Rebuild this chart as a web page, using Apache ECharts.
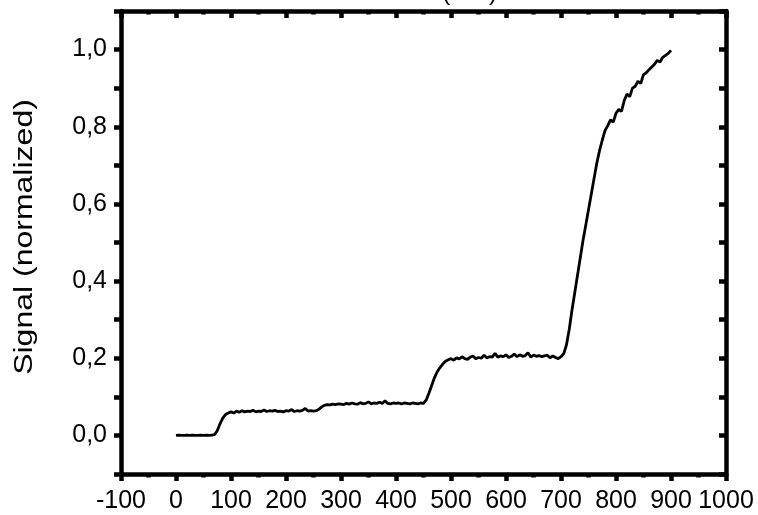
<!DOCTYPE html>
<html>
<head>
<meta charset="utf-8">
<script src="https://cdn.jsdelivr.net/npm/echarts@6/dist/echarts.min.js"></script>
<style>
html,body{margin:0;padding:0;background:#fff;}
#c{width:758px;height:515px;}
</style>
</head>
<body>
<div id="c"></div>
<script>
// Data
var timeValues = [0,5,10,15,20,25,30,35,40,45,50,55,60,65,70,75,80,85,90,95,
  100,105,110,115,120,125,130,135,140,145,150,155,160,165,170,175,180,185,190,195,
  200,205,210,215,220,225,230,235,240,245,250,255,260,265,270,275,280,285,290,295,
  300,305,310,315,320,325,330,335,340,345,350,355,360,365,370,375,380,385,390,395,
  400,405,410,415,420,425,430,435,440,445,450,455,460,465,470,475,480,485,490,495,
  500,505,510,515,520,525,530,535,540,545,550,555,560,565,570,575,580,585,590,595,
  600,605,610,615,620,625,630,635,640,645,650,655,660,665,670,675,680,685,690,695,
  700,705,710,715,720,725,730,735,740,745,750,755,760,765,770,775,780,785,790,795,
  800,805,810,815,820,825,830,835,840,845,850,855,860,865,870,875,880,885,890,895,900];
var signalValues = [0.000,0.001,0.000,0.000,0.001,0.000,0.001,0.000,0.000,0.001,0.000,0.001,0.000,0.001,0.002,0.012,0.030,0.045,0.054,0.058,
  0.061,0.058,0.063,0.060,0.064,0.061,0.063,0.062,0.065,0.061,0.063,0.062,0.066,0.062,0.064,0.063,0.065,0.062,0.063,0.061,
  0.064,0.063,0.067,0.062,0.064,0.063,0.065,0.070,0.063,0.064,0.063,0.064,0.068,0.074,0.078,0.080,0.079,0.081,0.080,0.082,
  0.081,0.080,0.083,0.081,0.084,0.082,0.081,0.085,0.082,0.083,0.087,0.082,0.084,0.083,0.086,0.083,0.090,0.083,0.082,0.084,
  0.083,0.084,0.082,0.084,0.083,0.082,0.084,0.083,0.082,0.084,0.083,0.092,0.110,0.130,0.150,0.165,0.176,0.185,0.192,0.196,
  0.199,0.195,0.201,0.198,0.204,0.199,0.197,0.203,0.206,0.199,0.202,0.200,0.208,0.201,0.204,0.203,0.213,0.203,0.206,0.204,
  0.209,0.202,0.205,0.211,0.204,0.209,0.205,0.207,0.214,0.203,0.208,0.205,0.207,0.204,0.206,0.208,0.201,0.206,0.202,0.199,
  0.204,0.212,0.235,0.275,0.325,0.370,0.415,0.460,0.505,0.545,0.585,0.625,0.665,0.705,0.738,0.765,0.790,0.803,0.818,0.812,
  0.835,0.845,0.840,0.868,0.885,0.878,0.900,0.905,0.918,0.912,0.935,0.940,0.948,0.955,0.962,0.972,0.968,0.980,0.985,0.990,0.998];
var xTicks = {min: -100, max: 1000, interval: 100};
var yTicks = {min: -0.1, max: 1.1, interval: 0.2};
var yAxisTitle = 'Signal (normalized)';
var topTitle = 'Time (min)';

var points = timeValues.map(function (t, i) { return [t, signalValues[i]]; });
var font = '"Liberation Sans", Arial, sans-serif';
var lineW = 4.5;

function fmtY(v) {
  if (v < -0.001 || v > 1.05) return '';
  return v.toFixed(1).replace('.', ',');
}

var chart = echarts.init(document.getElementById('c'), null, {renderer: 'canvas'});
chart.setOption({
  animation: false,
  backgroundColor: '#fff',
  grid: {left: 121, right: 32, top: 11, bottom: 41, containLabel: false},
  graphic: [{
    type: 'text', z: 10, x: 440, y: -19,
    style: {text: topTitle, font: '24px ' + font, fill: '#000', textAlign: 'center'}
  }, {
    type: 'text', z: 10, x: 25, y: 237, rotation: Math.PI / 2, scaleX: 1.28,
    style: {text: yAxisTitle, font: '25px ' + font, fill: '#000', textAlign: 'center', textVerticalAlign: 'middle'}
  }],
  xAxis: [{
    type: 'value', position: 'bottom', min: xTicks.min, max: xTicks.max, interval: xTicks.interval,
    axisLine: {show: true, onZero: false, lineStyle: {color: '#000', width: lineW}},
    axisTick: {show: true, inside: false, length: 7, lineStyle: {color: '#000', width: lineW}},
    minorTick: {show: true, splitNumber: 2, length: 3.5, lineStyle: {color: '#000', width: lineW}},
    axisLabel: {show: true, color: '#000', fontSize: 25, fontFamily: font, margin: 15,
      formatter: function (v) { return String(Math.round(v)); }},
    splitLine: {show: false}
  }, {
    type: 'value', position: 'top', min: xTicks.min, max: xTicks.max, interval: xTicks.interval,
    axisLine: {show: true, onZero: false, lineStyle: {color: '#000', width: lineW}},
    axisTick: {show: true, inside: true, length: 7, lineStyle: {color: '#000', width: lineW}},
    minorTick: {show: true, splitNumber: 2, length: 3.5, lineStyle: {color: '#000', width: lineW}},
    axisLabel: {show: false},
    splitLine: {show: false}
  }],
  yAxis: [{
    type: 'value', position: 'left', min: yTicks.min, max: yTicks.max, interval: 0.1,
    axisLine: {show: true, onZero: false, lineStyle: {color: '#000', width: lineW}},
    axisTick: {show: true, inside: false, length: 7, lineStyle: {color: '#000', width: lineW}},
    axisLabel: {show: true, color: '#000', fontSize: 25, fontFamily: font, margin: 14,
      formatter: function (v) { return Math.round(v * 10) % 2 === 0 ? fmtY(v) : ''; }},
    splitLine: {show: false}
  }, {
    type: 'value', position: 'right', min: yTicks.min, max: yTicks.max, interval: 0.1,
    axisLine: {show: true, onZero: false, lineStyle: {color: '#000', width: lineW}},
    axisTick: {show: true, inside: true, length: 7, lineStyle: {color: '#000', width: lineW}},
    axisLabel: {show: false},
    splitLine: {show: false}
  }],
  series: [{
    type: 'line', xAxisIndex: 0, yAxisIndex: 0, data: points, showSymbol: false,
    lineStyle: {color: '#000', width: 2.8}, smooth: false
  }]
});
</script>
</body>
</html>
